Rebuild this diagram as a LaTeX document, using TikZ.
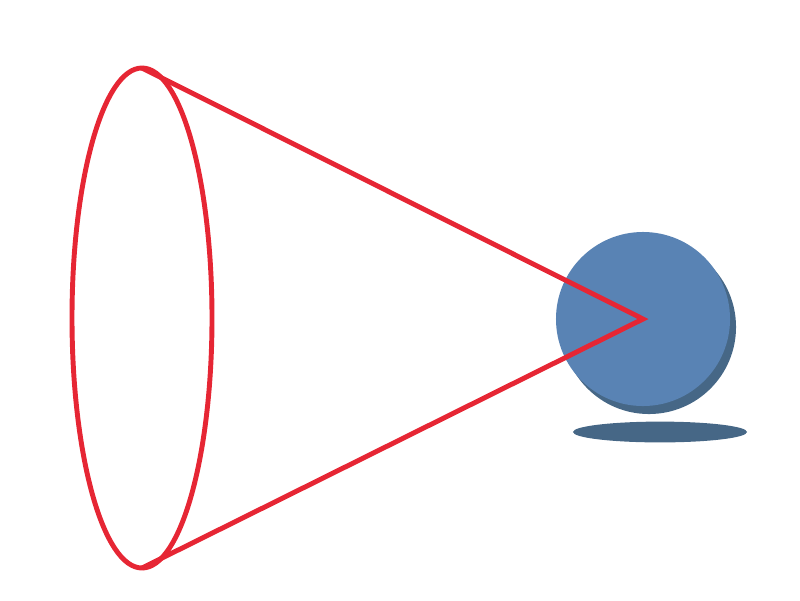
\documentclass[tikz,border=0pt]{standalone}
\usepackage{xcolor}
\usepackage{tikz}
\usetikzlibrary{shapes.geometric, positioning}

\definecolor{conered}{RGB}{230,38,52}
\definecolor{ballblue}{RGB}{89,131,180}
\definecolor{shadowblue}{RGB}{70,103,134}

\begin{document}
\begin{tikzpicture}[x=0.025cm, y=-0.025cm, line width=3.5pt]
    \useasboundingbox (0,0) rectangle (800,600);

    % Ball with its shadow
    \node[draw=none, circle, fill=shadowblue, minimum size=4.35cm, inner sep=0] (ballshade) at (649,327) {};
    \node[draw=none, circle, fill=ballblue, minimum size=4.35cm, inner sep=0] (ball) at (643,319) {};
    \node[draw=none, ellipse, fill=shadowblue, minimum width=4.35cm, minimum height=0.52cm, inner sep=0] (floor) at (660,432) {};

    % Cone of view
    \coordinate (rim) at (142,318);
    \coordinate (rimtop) at (142,68);
    \coordinate (rimbot) at (142,568);
    \draw[conered] (rim) ellipse [x radius=70, y radius=250];
    \draw[conered, line join=miter] (rimtop) -- (ball.center) -- (rimbot);

\end{tikzpicture}
\end{document}
